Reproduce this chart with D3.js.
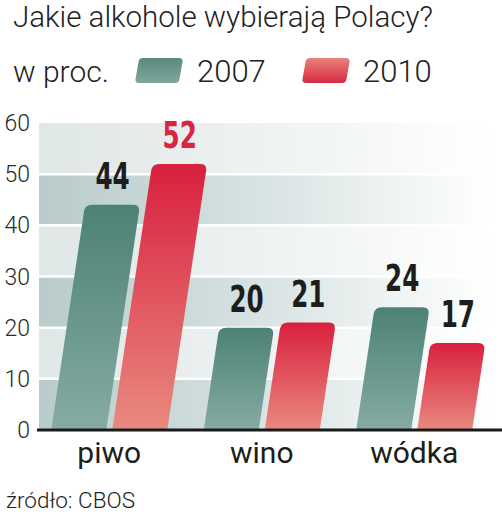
<!DOCTYPE html>
<html><head><meta charset="utf-8">
<script src="https://cdn.jsdelivr.net/npm/d3@7/dist/d3.min.js"></script>
<style>
html,body{margin:0;padding:0;background:#fff;}
svg{display:block;}
</style></head>
<body>
<svg id="chart" width="502" height="514"></svg>
<script>
const categories = ["piwo", "wino", "wódka"];
const seriesNames = ["2007", "2010"];
const values2007 = [44, 20, 24];
const values2010 = [52, 21, 17];
const yTicks = [0, 10, 20, 30, 40, 50, 60];
const title = "Jakie alkohole wybierają Polacy?";
const unitLabel = "w proc.";
const sourceText = "źródło: CBOS";

const svg = d3.select("#chart");
const plotLeft = 39, plotRight = 490;
const slant = 0.15;
const barW = 55, barGap = 6, radius = 7;

const x = d3.scaleBand().domain(categories).range([33, 490.5]).padding(0);
const y = d3.scaleLinear().domain([0, 60]).range([430, 123]);

const defs = svg.append("defs");
function hGrad(id, color) {
  const g = defs.append("linearGradient").attr("id", id)
    .attr("gradientUnits", "userSpaceOnUse")
    .attr("x1", plotLeft).attr("x2", plotRight).attr("y1", 0).attr("y2", 0);
  g.append("stop").attr("offset", "0").attr("stop-color", color).attr("stop-opacity", 1);
  g.append("stop").attr("offset", "0.35").attr("stop-color", color).attr("stop-opacity", 0.7);
  g.append("stop").attr("offset", "1").attr("stop-color", color).attr("stop-opacity", 0);
}
hGrad("bandDark", "#b8cccb");
hGrad("bandLight", "#e0e7e7");

function vGrad(id, top, bottom) {
  const g = defs.append("linearGradient").attr("id", id)
    .attr("x1", 0).attr("x2", 0).attr("y1", 0).attr("y2", 1);
  g.append("stop").attr("offset", "0").attr("stop-color", top);
  g.append("stop").attr("offset", "1").attr("stop-color", bottom);
}
vGrad("g2007", "#4c8273", "#86aba4");
vGrad("g2010", "#d8203e", "#e98a7f");
vGrad("leg2007", "#5a8a7e", "#80a69e");
vGrad("leg2010", "#ea837a", "#d52a42");

const bands = d3.range(0, 60, 10);
svg.append("g").selectAll("rect").data(bands).join("rect")
  .attr("x", plotLeft).attr("width", plotRight - plotLeft)
  .attr("y", d => y(d + 10)).attr("height", d => y(d) - y(d + 10))
  .attr("fill", d => (d / 10) % 2 === 0 ? "url(#bandDark)" : "url(#bandLight)");

svg.append("g").selectAll("line").data(yTicks.filter(t => t > 0 && t < 60)).join("line")
  .attr("x1", plotLeft).attr("x2", plotRight)
  .attr("y1", d => y(d)).attr("y2", d => y(d))
  .attr("stroke", "#fff").attr("stroke-width", 2.5);

function barPath(xb, w, v) {
  const yb = y(0), yt = y(v), h = yb - yt, s = h * slant;
  const len = Math.hypot(s, h);
  const ux = -s / len, uy = h / len;
  const TRx = xb + w + s, TLx = xb + s;
  const r = radius;
  return `M${xb},${yb} L${xb + w},${yb} L${TRx + ux * r},${yt + uy * r} Q${TRx},${yt} ${TRx - r},${yt} L${TLx + r},${yt} Q${TLx},${yt} ${TLx + ux * r},${yt + uy * r} Z`;
}

const data = [];
categories.forEach((c, i) => {
  data.push({cat: c, s: 0, v: values2007[i]});
  data.push({cat: c, s: 1, v: values2010[i]});
});
const barX = d => {
  const c = x(d.cat) + x.bandwidth() / 2;
  return d.s === 0 ? c - barGap / 2 - barW : c + barGap / 2;
};

svg.append("g").selectAll("path").data(data).join("path")
  .attr("d", d => barPath(barX(d), barW, d.v))
  .attr("fill", d => d.s === 0 ? "url(#g2007)" : "url(#g2010)");

svg.append("g").selectAll("text").data(data).join("text")
  .attr("transform", d => `translate(${barX(d) + (y(0) - y(d.v)) * slant + barW / 2},${y(d.v) - 16}) scale(0.74,1)`)
  .attr("text-anchor", "middle")
  .attr("font-family", "'DejaVu Sans Condensed', 'DejaVu Sans', sans-serif")
  .attr("font-weight", "bold")
  .attr("font-size", 37)
  .attr("fill", d => (d.s === 1 && d.cat === "piwo") ? "#d7263d" : "#1d1d1b")
  .text(d => d.v);

svg.append("line").attr("x1", 37).attr("x2", 502).attr("y1", y(0)).attr("y2", y(0))
  .attr("stroke", "#1a1a1a").attr("stroke-width", 3);

svg.append("g").selectAll("text").data(yTicks).join("text")
  .attr("x", 30).attr("y", d => y(d) + 8)
  .attr("text-anchor", "end")
  .attr("font-family", "Roboto, sans-serif").attr("font-weight", 300)
  .attr("font-size", 23).attr("fill", "#2a2a2a")
  .text(d => d);

svg.append("g").selectAll("text").data(categories).join("text")
  .attr("x", d => x(d) + x.bandwidth() / 2)
  .attr("y", 463)
  .attr("text-anchor", "middle")
  .attr("font-family", "Roboto, sans-serif").attr("font-size", 30)
  .attr("fill", "#1d1d1b")
  .text(d => d);

svg.append("text").attr("x", 13).attr("y", 27)
  .attr("font-family", "Roboto, sans-serif").attr("font-weight", 300)
  .attr("font-size", 29.5).attr("fill", "#222").text(title);

svg.append("text").attr("x", 13).attr("y", 82)
  .attr("font-family", "Roboto, sans-serif").attr("font-weight", 300)
  .attr("font-size", 30).attr("fill", "#222").text(unitLabel);

function swatchPath(xb, yb, w, h) {
  const s = h * 0.16, r = 4;
  return `M${xb + r},${yb} L${xb + w - r},${yb} Q${xb + w},${yb} ${xb + w + 0.5},${yb - r} L${xb + w + s - 0.5},${yb - h + r} Q${xb + w + s},${yb - h} ${xb + w + s - r},${yb - h} L${xb + s + r},${yb - h} Q${xb + s},${yb - h} ${xb + s - 0.5},${yb - h + r} L${xb + 0.5},${yb - r} Q${xb},${yb} ${xb + r},${yb} Z`;
}
const legX = [135, 302];
const legTextX = [197, 363];
seriesNames.forEach((n, i) => {
  svg.append("path").attr("d", swatchPath(legX[i], 83, 44, 25))
    .attr("fill", i === 0 ? "url(#leg2007)" : "url(#leg2010)");
  svg.append("text").attr("x", legTextX[i]).attr("y", 82)
    .attr("font-family", "Roboto, sans-serif").attr("font-weight", 300)
    .attr("font-size", 31).attr("fill", "#222").text(n);
});

svg.append("text").attr("x", 6).attr("y", 508)
  .attr("font-family", "Roboto, sans-serif").attr("font-weight", 300)
  .attr("font-size", 22.5).attr("fill", "#222").text(sourceText);
</script>
</body></html>
